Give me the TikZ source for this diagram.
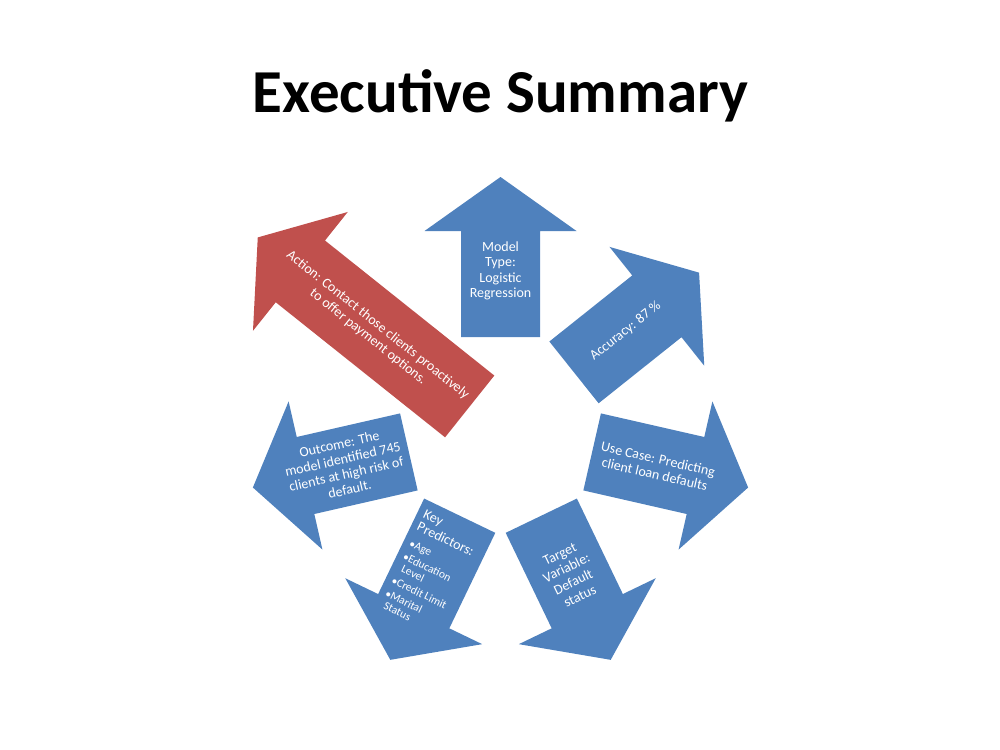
\documentclass[tikz,border=0pt]{standalone}
\usepackage{fontspec}
\setmainfont{Carlito}
\definecolor{ablue}{HTML}{4F81BD}
\definecolor{ared}{HTML}{C0504D}
\begin{document}
\begin{tikzpicture}[x=1pt,y=1pt,
  arrowtxt/.style={text=white, font=\fontsize{14}{15.5}\selectfont, align=center, inner sep=0pt},
  bluearrow/.pic={\fill[ablue] (94,39.5) -- (200,39.5) -- (200,76) -- (254,0) -- (200,-76) -- (200,-39.5) -- (94,-39.5) -- cycle;},
  redarrow/.pic={\fill[ared] (39.4,39.5) -- (256,39.5) -- (256,76) -- (310.5,0) -- (256,-76) -- (256,-39.5) -- (39.4,-39.5) -- cycle;}]
\useasboundingbox (0,0) rectangle (1000,-749);
\coordinate (c) at (500.5,-431);
\node[font=\bfseries\fontsize{61}{70}\selectfont, anchor=base, inner sep=0pt] (title) at (500.5,-113) {Executive Summary};
% arrows
\pic[rotate=90] at (c) {bluearrow};
\pic[rotate=38.571] at (c) {bluearrow};
\pic[rotate=-12.857] at (c) {bluearrow};
\pic[rotate=-64.286] at (c) {bluearrow};
\pic[rotate=-115.714] at (c) {bluearrow};
\pic[rotate=-167.143] at (c) {bluearrow};
\pic[rotate=141.429] at (c) {redarrow};
% texts
\node[arrowtxt] (model) at ([shift={(90:160)}]c) {Model\\Type:\\Logistic\\Regression};
\node[arrowtxt, rotate=38.571] (acc) at ([shift={(38.571:160)}]c) {Accuracy: 87 \%};
\node[arrowtxt, rotate=-12.857] (use) at ([shift={(-12.857:160)}]c) {Use Case: Predicting\\client loan defaults};
\node[arrowtxt, rotate=25.714] (target) at ([shift={(-64.286:160)}]c) {Target\\Variable:\\Default\\status};
\node[text=white, inner sep=0pt, rotate=-25.714] (keyp) at ([shift={(-115.714:157)}]c) {%
\begin{minipage}{66pt}\raggedright
\fontsize{14}{14}\selectfont Key\\Predictors:\par
\vspace{6pt}
\fontsize{11.5}{12}\selectfont
\textbullet Age\\[2.5pt]
\textbullet Education\\
\hspace*{4pt}Level\\[2.5pt]
\textbullet Credit Limit\\[2.5pt]
\textbullet Marital\\
\hspace*{4pt}Status
\end{minipage}};
\node[arrowtxt, rotate=12.857] (outc) at ([shift={(-167.143:160)}]c) {Outcome: The\\model identified 745\\clients at high risk of\\default.};
\node[arrowtxt, rotate=-38.571] (action) at (373,-331) {Action: Contact those clients proactively\\to offer payment options.};
\end{tikzpicture}
\end{document}
